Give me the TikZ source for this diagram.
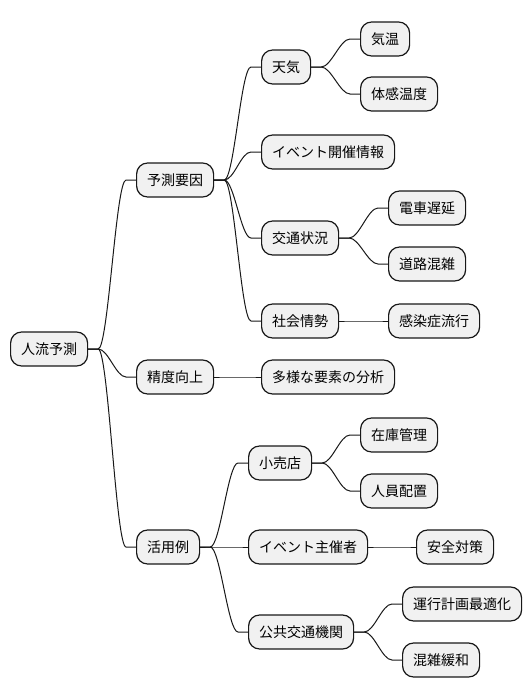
\documentclass[tikz,border=0pt]{standalone}
\usepackage{fontspec}
\newfontfamily\jp{Noto Sans CJK JP}
\usetikzlibrary{calc}
\definecolor{nodefill}{HTML}{F1F1F1}
\definecolor{edge}{HTML}{181818}
\tikzset{
  mm/.style={draw=edge, fill=nodefill, line width=1.2pt, rounded corners=11pt,
    anchor=west, minimum height=34pt, inner xsep=10.5pt, inner ysep=0pt,
    font=\jp\fontsize{14}{16}\selectfont},
  conn/.style={draw=edge, line width=1pt}
}
\newcommand{\mmlink}[2]{\draw[conn] (#1.east) -- ++(10,0) .. controls +(10,0) and +(-10,0) .. ($(#2.west)+(-10,0)$) -- (#2.west);}
\begin{document}
\begin{tikzpicture}[x=1pt,y=-1pt]
\useasboundingbox (0,0) rectangle (530,696);
\node[mm] (root) at (10,349) {人流予測};
\node[mm] (a1) at (136,180) {予測要因};
\node[mm] (a2) at (136,377) {精度向上};
\node[mm] (a3) at (136,547) {活用例};
\node[mm] (b1) at (261,67) {天気};
\node[mm] (b2) at (261,152) {イベント開催情報};
\node[mm] (b3) at (261,238) {交通状況};
\node[mm] (b4) at (261,321) {社会情勢};
\node[mm] (c1) at (360,39) {気温};
\node[mm] (c2) at (360,94) {体感温度};
\node[mm] (c3) at (388,208) {電車遅延};
\node[mm] (c4) at (388,264) {道路混雑};
\node[mm] (c5) at (388,321) {感染症流行};
\node[mm] (d1) at (261,377) {多様な要素の分析};
\node[mm] (e1) at (248,463) {小売店};
\node[mm] (e2) at (248,547) {イベント主催者};
\node[mm] (e3) at (248,632) {公共交通機関};
\node[mm] (f1) at (360,435) {在庫管理};
\node[mm] (f2) at (360,491) {人員配置};
\node[mm] (f3) at (416,547) {安全対策};
\node[mm] (f4) at (402,604) {運行計画最適化};
\node[mm] (f5) at (402,660) {混雑緩和};
\mmlink{root}{a1}
\mmlink{root}{a2}
\mmlink{root}{a3}
\mmlink{a1}{b1}
\mmlink{a1}{b2}
\mmlink{a1}{b3}
\mmlink{a1}{b4}
\mmlink{b1}{c1}
\mmlink{b1}{c2}
\mmlink{b3}{c3}
\mmlink{b3}{c4}
\mmlink{b4}{c5}
\mmlink{a2}{d1}
\mmlink{a3}{e1}
\mmlink{a3}{e2}
\mmlink{a3}{e3}
\mmlink{e1}{f1}
\mmlink{e1}{f2}
\mmlink{e2}{f3}
\mmlink{e3}{f4}
\mmlink{e3}{f5}
\end{tikzpicture}
\end{document}
